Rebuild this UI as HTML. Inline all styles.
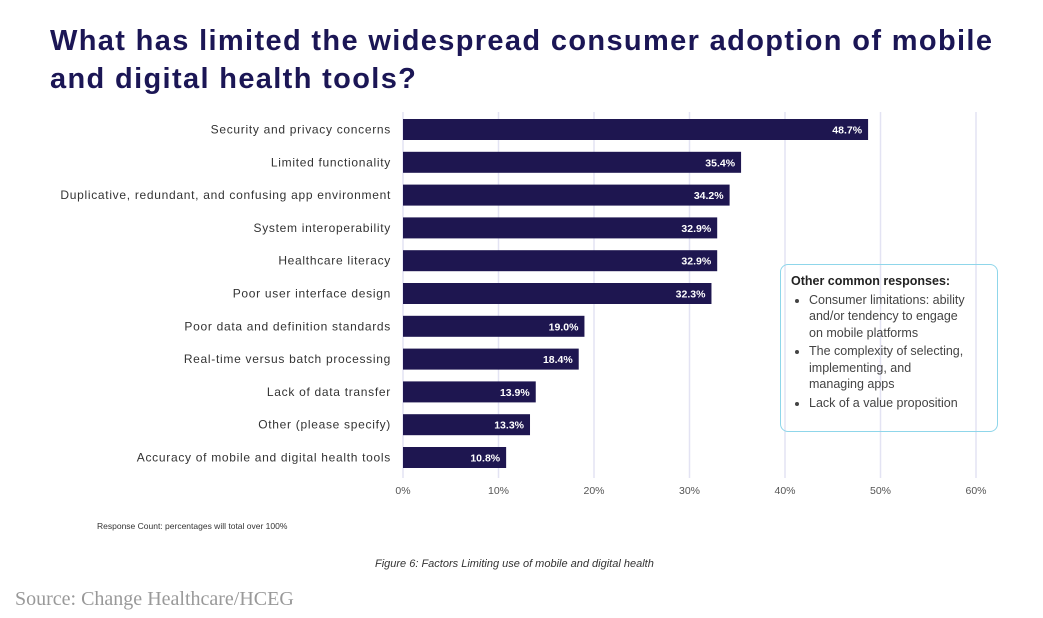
<!DOCTYPE html>
<html><head><meta charset="utf-8"><style>
body{margin:0;width:1043px;height:618px;background:#fff;overflow:hidden;position:relative;font-family:"Liberation Sans",sans-serif}
#title{position:absolute;left:50px;top:22px;font-size:29px;font-weight:bold;color:#1b1655;line-height:38px;letter-spacing:1.35px}
#src{position:absolute;left:15px;top:588px;font-family:"Liberation Serif",serif;font-size:20px;color:#999}
#note{position:absolute;left:97px;top:521px;font-size:8.5px;color:#333}
#cap{position:absolute;left:375px;top:558px;font-size:11px;font-style:italic;color:#333}
#box{position:absolute;left:780px;top:264px;width:218px;height:168px;border:1.5px solid #8fd6ea;border-radius:8px;box-sizing:border-box;padding:8px 10px;font-size:12.5px;color:#444;line-height:16.5px}
#box b{color:#222;font-size:12.5px}
#box ul{margin:2px 0 0 0;padding-left:18px;padding-right:22px}
#box li{margin:0 0 2px 0}
</style></head><body>
<div id="title">What has limited the widespread consumer adoption of mobile<br>and digital health tools?</div>
<svg id="chart" width="1043" height="618" style="position:absolute;left:0;top:0"></svg>
<div id="box"><b>Other common responses:</b>
<ul><li>Consumer limitations: ability and/or tendency to engage on mobile platforms</li><li>The complexity of selecting, implementing, and managing apps</li><li>Lack of a value proposition</li></ul></div>
<div id="note">Response Count: percentages will total over 100%</div>
<div id="cap">Figure 6: Factors Limiting use of mobile and digital health</div>
<div id="src">Source: Change Healthcare/HCEG</div>
<script>
const categories=["Security and privacy concerns","Limited functionality","Duplicative, redundant, and confusing app environment","System interoperability","Healthcare literacy","Poor user interface design","Poor data and definition standards","Real-time versus batch processing","Lack of data transfer","Other (please specify)","Accuracy of mobile and digital health tools"];
const values=[48.7,35.4,34.2,32.9,32.9,32.3,19.0,18.4,13.9,13.3,10.8];
const ticks=[0,10,20,30,40,50,60];
const NS="http://www.w3.org/2000/svg";
const svg=document.getElementById('chart');
const x=v=>403+v*9.55;
const y=i=>119+i*32.8;
function mk(t,a){const e=document.createElementNS(NS,t);for(const k in a)e.setAttribute(k,a[k]);svg.appendChild(e);return e;}
ticks.forEach(t=>{
 const l=mk('line',{x1:x(t),x2:x(t),y1:112,y2:478,stroke:'#e3e3f3','stroke-width':1.5});
 
 
 const tx=mk('text',{x:x(t),y:494,'text-anchor':'middle','font-size':10.5,fill:'#555'});
 tx.textContent=t+'%';
 
 
});
categories.forEach((c,i)=>{
 const r=mk('rect',{x:x(0),y:y(i),width:x(values[i])-x(0),height:21,fill:'#1e1650'});
 
 
 const v=mk('text',{x:x(values[i])-6,y:y(i)+14.5,'text-anchor':'end','font-size':10.5,'font-weight':'bold',fill:'#fff'});
 v.textContent=values[i].toFixed(1)+'%';
 
 
 const l=mk('text',{x:391,y:y(i)+14.5,'text-anchor':'end','font-size':12,'letter-spacing':0.7,fill:'#333'});
 l.textContent=c;
 
 
});
</script>
</body></html>
